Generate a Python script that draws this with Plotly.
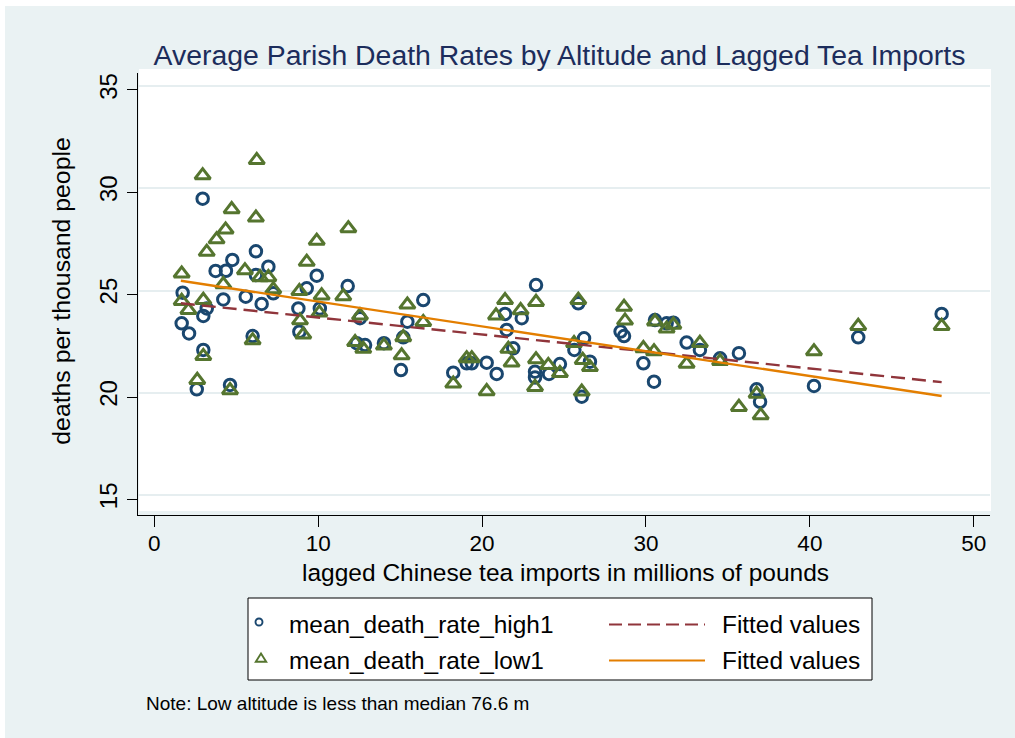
import plotly.graph_objects as go

# Parish death rates (deaths per thousand) against lagged Chinese tea imports (millions of lb)
high_x = [2.95, 6.20, 4.76, 3.74, 4.37, 6.96, 6.20, 9.91, 7.26, 9.30, 1.73, 3.20, 2.99, 4.21,
          5.58, 6.55, 8.79, 10.10, 1.67, 2.12, 8.85, 6.00, 2.99, 2.59, 4.62,
          11.80, 12.55, 16.41, 15.44, 15.19, 12.35, 12.86, 14.01, 15.05, 19.06, 19.37, 20.28, 18.24,
          23.29, 25.87, 22.42, 21.40, 21.50, 28.45, 28.66, 21.90, 20.89, 26.22, 25.63, 26.58,
          23.23, 23.23, 24.08, 24.75, 26.08, 29.84,
          30.55, 31.26, 31.67, 30.49, 32.48, 33.29, 34.52, 35.67, 36.75, 36.96, 40.25,
          42.95, 48.04]
high_y = [29.69, 27.12, 26.70, 26.16, 26.17, 26.37, 25.96, 25.93, 25.07, 25.31, 25.10, 24.33, 23.96, 24.77,
          24.90, 24.55, 24.33, 24.33, 23.60, 23.11, 23.19, 22.98, 22.30, 20.38, 20.59,
          25.42, 23.85, 24.74, 23.68, 22.92, 22.63, 22.54, 22.63, 21.32, 21.65, 21.65, 21.68, 21.19,
          25.47, 24.58, 23.85, 24.06, 23.28, 23.20, 22.98, 22.38, 21.13, 22.87, 22.30, 21.73,
          21.24, 20.96, 21.13, 21.61, 20.02, 21.65,
          23.76, 23.60, 23.63, 20.75, 22.66, 22.30, 21.89, 22.14, 20.38, 19.77, 20.54,
          22.92, 24.06]

low_x = [6.25, 2.95, 4.72, 6.20, 4.35, 3.80, 3.20, 9.91, 9.30, 1.67, 5.53, 6.45, 6.96, 7.26,
         4.21, 1.67, 2.08, 2.99, 8.85, 8.89, 10.21, 10.07, 9.09, 6.00, 2.99, 2.62, 4.62,
         11.84, 11.53, 12.55, 15.44, 16.41, 15.19, 12.25, 12.75, 14.01, 15.09, 19.06, 19.37, 18.24, 20.28,
         21.40, 23.29, 25.87, 28.66, 22.35, 20.85, 28.72, 21.60, 21.80, 25.61, 26.14, 26.58, 23.29,
         23.23, 24.04, 24.75, 26.08, 29.84,
         30.55, 31.26, 31.67, 30.49, 33.29, 32.48, 34.52, 36.75, 37.00, 35.67, 40.25,
         42.95, 48.04]
low_y = [31.57, 30.83, 29.17, 28.76, 28.18, 27.70, 27.09, 27.63, 26.60, 26.03, 26.19, 25.85, 25.85, 25.26,
         25.51, 24.69, 24.25, 24.74, 25.17, 23.74, 24.96, 24.12, 23.05, 22.77, 22.00, 20.83, 20.33,
         28.24, 24.92, 23.98, 24.51, 23.66, 22.92, 22.68, 22.35, 22.51, 22.03, 21.89, 21.89, 20.65, 20.28,
         24.73, 24.64, 24.74, 24.40, 24.24, 23.98, 23.73, 22.35, 21.68, 22.63, 21.81, 21.46, 21.84,
         20.49, 21.56, 21.17, 20.26, 22.38,
         23.69, 23.34, 23.53, 22.23, 22.64, 21.62, 21.75, 20.16, 19.11, 19.51, 22.23,
         23.47, 23.47]

# Linear fits (end points of each fitted line)
fit_x = [1.62, 48.04]
fit_high_y = [24.58, 20.73]
fit_low_y = [25.68, 20.05]

x_ticks = [0, 10, 20, 30, 40, 50]
y_ticks = [15, 20, 25, 30, 35]

NAVY = "#1a476f"
GREEN = "#55752f"
MAROON = "#90353b"
ORANGE = "#e37e00"
BG = "#eaf2f3"
FONT = "Liberation Sans, Arial, sans-serif"

W, H = 1015, 738
L, R, T, B = 138, 990, 73, 515


def px(x):
    return (x - L) / (R - L)


def py(y):
    return (B - y) / (B - T)


fig = go.Figure()
fig.add_trace(go.Scatter(
    x=high_x, y=high_y, mode="markers", name="mean_death_rate_high1",
    marker=dict(symbol="circle-open", size=11.5, color=NAVY, line=dict(width=3, color=NAVY)),
    showlegend=False))
fig.add_trace(go.Scatter(
    x=low_x, y=low_y, mode="markers", name="mean_death_rate_low1",
    marker=dict(symbol="triangle-up-open", size=13.5, color=GREEN, line=dict(width=3, color=GREEN)),
    showlegend=False))
fig.add_trace(go.Scatter(
    x=fit_x, y=fit_high_y, mode="lines", name="Fitted values",
    line=dict(color=MAROON, width=2.4, dash="14px,7px"), showlegend=False))
fig.add_trace(go.Scatter(
    x=fit_x, y=fit_low_y, mode="lines", name="Fitted values",
    line=dict(color=ORANGE, width=2.4), showlegend=False))
# carrier for the grid axis
fig.add_trace(go.Scatter(x=[None], y=[None], yaxis="y2", showlegend=False, hoverinfo="skip"))

shapes = [
    # outer background
    dict(type="rect", xref="paper", yref="paper", x0=px(5), x1=px(1030), y0=py(760), y1=py(6),
         fillcolor=BG, line=dict(width=0), layer="below"),
    # plot region
    dict(type="rect", xref="paper", yref="paper", x0=px(139), x1=px(991), y0=py(511), y1=py(69),
         fillcolor="white", line=dict(width=0), layer="below"),
    # legend box
    dict(type="rect", xref="paper", yref="paper", x0=px(248), x1=px(872), y0=py(680), y1=py(598),
         fillcolor="white", line=dict(color="black", width=1)),
    # legend keys
    dict(type="circle", xref="paper", yref="paper", xsizemode="pixel", ysizemode="pixel",
         xanchor=px(259), yanchor=py(622), x0=-3.5, x1=3.5, y0=-3.5, y1=3.5,
         line=dict(color=NAVY, width=1.9)),
    dict(type="path", xref="paper", yref="paper", xsizemode="pixel", ysizemode="pixel",
         xanchor=px(261), yanchor=py(659), path="M -5.2 -2.7 L 5.2 -2.7 L 0 5.4 Z",
         line=dict(color=GREEN, width=1.9)),
    dict(type="line", xref="paper", yref="paper", x0=px(609), x1=px(705), y0=py(624.5), y1=py(624.5),
         line=dict(color=MAROON, width=2, dash="13px,6px")),
    dict(type="line", xref="paper", yref="paper", x0=px(609), x1=px(705), y0=py(660.5), y1=py(660.5),
         line=dict(color=ORANGE, width=2)),
]

annotations = [
    dict(text="lagged Chinese tea imports in millions of pounds", x=px(565), y=py(572),
         xanchor="center", yanchor="middle", font=dict(size=24.5, color="black")),
    dict(text="deaths per thousand people", x=px(62), y=py(291.7), textangle=-90,
         xanchor="center", yanchor="middle", font=dict(size=24.8, color="black")),
    dict(text="mean_death_rate_high1", x=px(287), y=py(624.7), xanchor="left", yanchor="middle",
         font=dict(size=24.4, color="black")),
    dict(text="mean_death_rate_low1", x=px(287), y=py(660.7), xanchor="left", yanchor="middle",
         font=dict(size=24.4, color="black")),
    dict(text="Fitted values", x=px(720), y=py(624.7), xanchor="left", yanchor="middle",
         font=dict(size=24.4, color="black")),
    dict(text="Fitted values", x=px(720), y=py(660.7), xanchor="left", yanchor="middle",
         font=dict(size=24.4, color="black")),
    dict(text="Note: Low altitude is less than median 76.6 m", x=px(143.5), y=py(703.7),
         xanchor="left", yanchor="middle", font=dict(size=19, color="black")),
]
for a in annotations:
    a.update(xref="paper", yref="paper", showarrow=False)

fig.update_layout(
    width=W, height=H,
    margin=dict(l=L, r=W - R, t=T, b=H - B, pad=0),
    paper_bgcolor="white", plot_bgcolor="rgba(0,0,0,0)",
    font=dict(family=FONT, color="black"),
    title=dict(text="Average Parish Death Rates by Altitude and Lagged Tea Imports",
               x=559.5 / W, xref="container", xanchor="center",
               y=1 - 55 / H, yref="container", yanchor="middle",
               font=dict(size=28.4, color="#1c2d5c", family=FONT)),
    xaxis=dict(range=[-0.995, 50.99], tickvals=x_ticks, ticks="outside", ticklen=11,
               tickcolor="black", tickwidth=1, showline=True, linecolor="black", linewidth=1,
               showgrid=False, zeroline=False, tickfont=dict(size=22.5, color="black"),
               ticklabelstandoff=-3),
    yaxis=dict(range=[14.238, 35.83], tickvals=y_ticks, tickangle=-90, ticks="outside", ticklen=10,
               tickcolor="black", tickwidth=1, showline=True, linecolor="black", linewidth=1,
               showgrid=False, zeroline=False, tickfont=dict(size=24, color="black")),
    yaxis2=dict(overlaying="y", range=[14.033, 35.625], tickvals=y_ticks, showgrid=True,
                gridcolor="#e6eef0", gridwidth=2, showticklabels=False, ticks="",
                showline=False, zeroline=False),
    shapes=shapes, annotations=annotations, showlegend=False,
)

fig.write_html("out.html")
